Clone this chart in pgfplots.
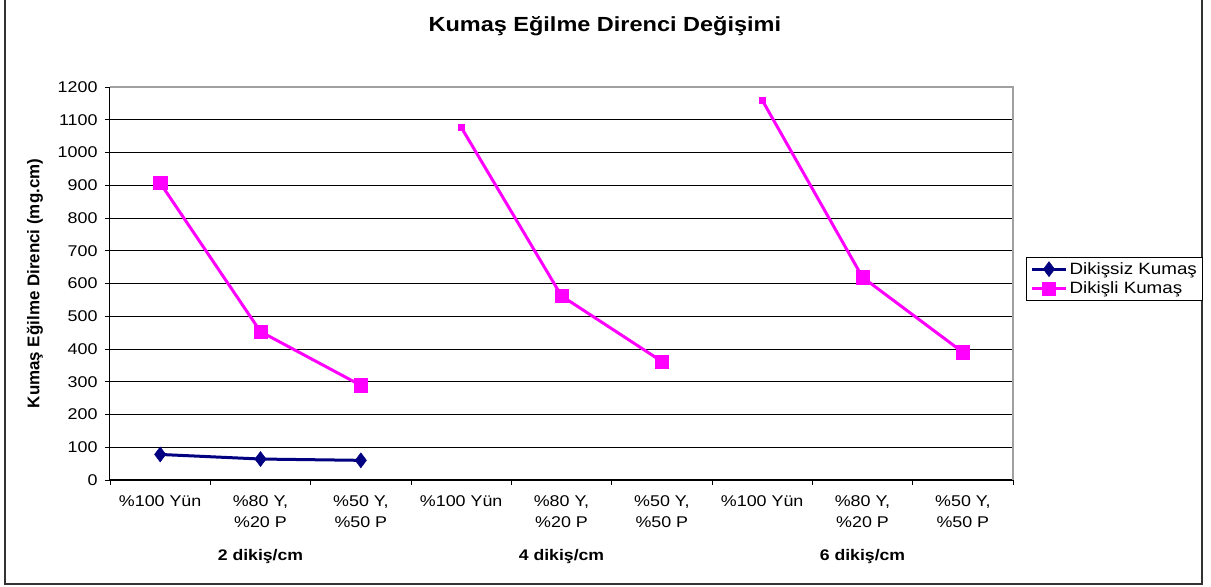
\documentclass[border=0pt]{standalone}
\usepackage{pgfplots}
\pgfplotsset{compat=1.18}
\usepackage{fontspec}
\setmainfont[FakeStretch=1.15]{Liberation Sans}
\newfontfamily\labelfont{Liberation Sans}

\definecolor{navyline}{RGB}{0,0,128}
\definecolor{magline}{RGB}{255,0,255}
\definecolor{frame}{RGB}{160,160,160}

\begin{document}
\begin{tikzpicture}[x=1bp,y=1bp]
\useasboundingbox (-110,-107) rectangle (1101,480);
% chart area frame (open at the top)
\draw[line width=2bp, black!80] (-105,482) -- (-105,-104) -- (1092,-104) -- (1092,482);
\begin{axis}[
  at={(0,0)}, anchor=south west,
  width=903bp, height=393bp, scale only axis,
  xmin=-0.5, xmax=8.5, ymin=0, ymax=1200,
  ytick={0,100,...,1200},
  xtick={0,...,8},
  xticklabels={{\%100 Yün},{\%80 Y,\\\%20 P},{\%50 Y,\\\%50 P},
               {\%100 Yün},{\%80 Y,\\\%20 P},{\%50 Y,\\\%50 P},
               {\%100 Yün},{\%80 Y,\\\%20 P},{\%50 Y,\\\%50 P}},
  minor xtick={-0.5,0.5,...,8.5},
  major x tick style={draw=none},
  tick align=outside,
  major tick length=5bp, minor tick length=5bp,
  tick style={black, line width=0.8bp},
  ymajorgrids, grid style={black, line width=0.8bp},
  axis x line*=bottom, axis y line*=left,
  axis line style={black, line width=1bp, -},
  /pgf/number format/assume math mode=true,
  /pgf/number format/1000 sep={},
  ticklabel style={font=\fontsize{15.6}{21}\selectfont},
  xticklabel style={align=center, yshift=-7bp},
  yticklabel style={xshift=-4bp},
  title={Kumaş Eğilme Direnci Değişimi},
  title style={at={(axis description cs:0.548,1.14)}, anchor=center,
               font=\bfseries\fontsize{20.5}{24}\selectfont},
  ylabel={Kumaş Eğilme Direnci (mg.cm)},
  ylabel style={at={(axis description cs:-0.083,0.5)}, anchor=center,
                font=\labelfont\bfseries\fontsize{17}{20}\selectfont},
  clip=false,
  legend style={at={(axis description cs:1.0144,0.5674)}, anchor=north west,
                draw=black, line width=1bp, inner xsep=4bp, inner ysep=3bp,
                font=\fontsize{16.4}{19}\selectfont,
                row sep=2bp, cells={anchor=west}},
  legend image code/.code={%
    \draw[mark repeat=2, mark phase=2] plot coordinates {(0bp,0bp) (17bp,0bp) (34bp,0bp)};},
]
% unstitched fabric
\addplot[navyline, line width=3bp, mark=diamond*, mark size=7.5bp,
         mark options={solid, line width=0.5bp}] coordinates {(0,78) (1,64) (2,60)};
\addlegendentry{Dikişsiz Kumaş}
% stitched fabric, one segment per stitch density
\addplot[magline, line width=3bp, mark=square*, mark size=6.6bp,
         mark options={line width=0.5bp}]
  coordinates {(0,907) (1,453) (2,289)};
\addlegendentry{Dikişli Kumaş}
\addplot[forget plot, magline, line width=3bp, mark=square*, mark size=6.6bp,
         mark options={line width=0.5bp}, mark indices={2,3}]
  coordinates {(3,1077) (4,562) (5,362)};
\addplot[forget plot, magline, line width=3bp, mark=square*, mark size=6.6bp,
         mark options={line width=0.5bp}, mark indices={2,3}]
  coordinates {(6,1160) (7,619) (8,390)};
\addplot[forget plot, only marks, magline, mark=square*, mark size=3bp]
  coordinates {(3,1077) (6,1160)};
% stitch density group labels
\node[anchor=base, font=\bfseries\fontsize{15.4}{18}\selectfont, yshift=-81bp]
  at (axis cs:1,0) {2 dikiş/cm};
\node[anchor=base, font=\bfseries\fontsize{15.4}{18}\selectfont, yshift=-81bp]
  at (axis cs:4,0) {4 dikiş/cm};
\node[anchor=base, font=\bfseries\fontsize{15.4}{18}\selectfont, yshift=-81bp]
  at (axis cs:7,0) {6 dikiş/cm};
% plot area border on the top and right
\draw[frame, line width=1.5bp] (rel axis cs:0,1) -- (rel axis cs:1,1) -- (rel axis cs:1,0);
\end{axis}
\end{tikzpicture}
\end{document}
